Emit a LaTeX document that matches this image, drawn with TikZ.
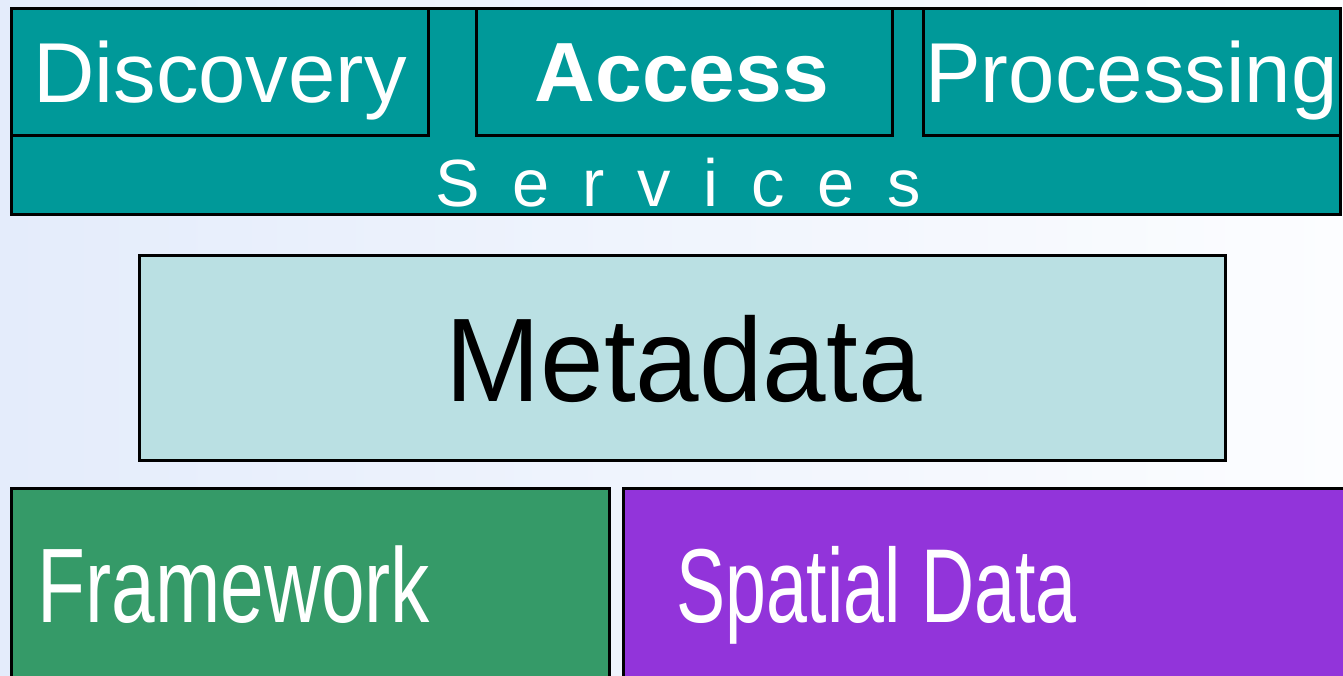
\documentclass[tikz,border=0pt]{standalone}
\usepackage{fontspec}
\setmainfont{Liberation Sans}
\usepackage{tikz}

\definecolor{bgleft}{HTML}{E4ECFB}
\definecolor{bgright}{HTML}{FCFDFF}
\definecolor{servteal}{HTML}{009999}
\definecolor{metablue}{HTML}{BAE0E3}
\definecolor{frameworkgreen}{HTML}{359A68}
\definecolor{spatialpurple}{HTML}{9234DA}

\begin{document}
\begin{tikzpicture}[
    box/.style={draw=black, line width=1.7pt, rectangle, anchor=north west, inner sep=0pt},
    label/.style={anchor=base, inner sep=0pt, text=white}
  ]

    \useasboundingbox (0,0) rectangle (26.86,-13.52);
    \shade[left color=bgleft, right color=bgright] (0,0) rectangle (26.86,-13.52);

    % services layer
    \node[box, fill=servteal, minimum width=26.58cm, minimum height=4.12cm] (services) at (0.20,-0.14) {};
    \node[box, fill=servteal, minimum width=8.34cm, minimum height=2.54cm] (discovery) at (0.20,-0.14) {};
    \node[box, fill=servteal, minimum width=8.32cm, minimum height=2.54cm] (access) at (9.50,-0.14) {};
    \node[box, fill=servteal, minimum width=8.34cm, minimum height=2.54cm] (processing) at (18.44,-0.14) {};

    \node[label, font=\fontsize{48.4pt}{58pt}\selectfont] (discoverytext) at (4.40,-2.06) {Discovery};
    \node[label, font=\fontsize{47.8pt}{58pt}\selectfont\bfseries] (accesstext) at (13.64,-2.04) {Access};
    \node[label, font=\fontsize{48.4pt}{58pt}\selectfont] (processingtext) at (22.63,-2.06)
        {\scalebox{0.98}[1]{Processing}};
    \node[label, font=\fontsize{38pt}{46pt}\selectfont] (servicestext) at (13.56,-4.14)
        {\spaceskip=0.49em S e r v i c e s};

    % metadata layer
    \node[box, fill=metablue, minimum width=21.72cm, minimum height=4.10cm] (metadata) at (2.76,-5.08) {};
    \node[label, text=black, font=\fontsize{67.7pt}{80pt}\selectfont] (metadatatext) at (13.67,-8.04)
        {\scalebox{0.96}[1]{Metadata}};

    % data layer
    \node[box, fill=frameworkgreen, minimum width=11.96cm, minimum height=4.26cm] (framework) at (0.20,-9.74) {};
    \node[box, fill=spatialpurple, minimum width=14.76cm, minimum height=4.26cm] (spatial) at (12.44,-9.74) {};

    \node[label, font=\fontsize{60.3pt}{72pt}\selectfont] (frameworktext) at (4.68,-12.46)
        {\scalebox{0.74}[1]{Framework}};
    \node[label, font=\fontsize{59.8pt}{72pt}\selectfont] (spatialtext) at (17.53,-12.46)
        {\scalebox{0.70}[1]{Spatial Data}};

\end{tikzpicture}
\end{document}
